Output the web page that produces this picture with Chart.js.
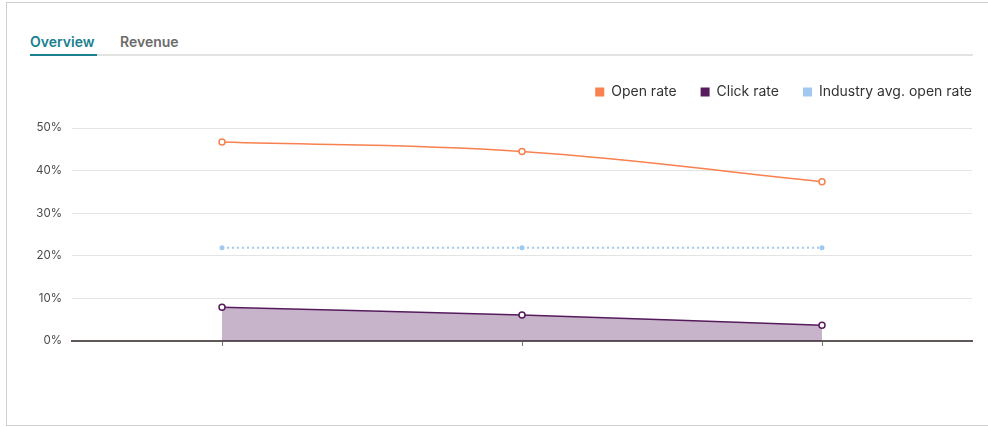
<!DOCTYPE html>
<html>
<head>
  <title>Campaign Overview</title>
  <meta charset="UTF-8" />
  <script src="https://cdn.jsdelivr.net/npm/chart.js"></script>
  <style>
    body {
      margin: 0;
      font-family: Inter, "Noto Sans", sans-serif;
      background: #fff;
      width: 988px;
      height: 427px;
      overflow: hidden;
      position: relative;
    }
    .card {
      position: absolute;
      left: 6px;
      top: 2px;
      width: 1000px;
      height: 422px;
      border: 1px solid #cfcfcf;
    }
    .tabs {
      position: absolute;
      left: 30px;
      top: 31px;
      width: 943px;
      height: 23px;
      border-bottom: 2px solid #e3e3e3;
      font-size: 14px;
      font-weight: 600;
    }
    .tab {
      position: absolute;
      top: 0;
      height: 23px;
      line-height: 21px;
    }
    .tab.active {
      left: 0;
      color: #1a7f8f;
      border-bottom: 2px solid #1a7f8f;
      width: 67px;
    }
    .tab.other {
      left: 90px;
      color: #6b6b6b;
    }
    .chart-box {
      position: absolute;
      left: 0;
      top: 57px;
      width: 988px;
      height: 368px;
    }
  </style>
</head>
<body>
  <div class="card"></div>
  <div class="tabs">
    <div class="tab active">Overview</div>
    <div class="tab other">Revenue</div>
  </div>
  <div class="chart-box"><canvas id="rateChart"></canvas></div>

  <script>
const campaigns = ['Campaign 1', 'Campaign 2', 'Campaign 3'];
const openRate = [46.7, 44.5, 37.4];
const clickRate = [7.9, 6.1, 3.7];
const industryOpen = [21.9, 21.9, 21.9];
const yTicks = [0, 10, 20, 30, 40, 50];

const LEGEND_PAD = 24;

// legend sits flush with the plot's right edge and leaves a gap below it
const legendTweak = {
  id: 'legendTweak',
  beforeInit(chart) {
    const origFit = chart.legend.fit;
    chart.legend.fit = function () {
      origFit.bind(chart.legend)();
      this.height += 19;
    };
  },
  afterLayout(chart) {
    chart.legend.right += LEGEND_PAD;
  }
};

const ctx = document.getElementById('rateChart').getContext('2d');
new Chart(ctx, {
  type: 'line',
  data: {
    labels: campaigns,
    datasets: [
      {
        label: 'Open rate',
        data: openRate,
        borderColor: '#f8814f',
        backgroundColor: '#f8814f',
        pointBackgroundColor: '#fff',
        pointBorderColor: '#f8814f',
        pointBorderWidth: 1.5,
        pointRadius: 3,
        borderWidth: 1.5,
        tension: 0.4,
        fill: false
      },
      {
        label: 'Click rate',
        data: clickRate,
        borderColor: '#561b5d',
        backgroundColor: 'rgba(86,27,93,0.33)',
        pointBackgroundColor: '#fff',
        pointBorderColor: '#561b5d',
        pointBorderWidth: 1.5,
        pointRadius: 3,
        borderWidth: 1.5,
        tension: 0.3,
        fill: 'origin'
      },
      {
        label: 'Industry avg. open rate',
        data: industryOpen,
        borderColor: '#9fc9ef',
        backgroundColor: '#9fc9ef',
        pointBackgroundColor: '#9fc9ef',
        pointBorderColor: '#9fc9ef',
        pointRadius: 1.5,
        borderWidth: 2,
        borderDash: [2, 3],
        tension: 0,
        fill: false
      }
    ]
  },
  options: {
    responsive: true,
    maintainAspectRatio: false,
    animation: false,
    layout: { padding: { right: 16, top: 4 } },
    scales: {
      x: {
        offset: true,
        grid: { drawOnChartArea: false, offset: false, tickLength: 5, color: '#777', lineWidth: 1 },
        border: { color: '#5f5a58', width: 2 },
        ticks: { callback: () => '' },
        afterFit: scale => { scale.height = 84; }
      },
      y: {
        min: 0,
        max: 50,
        afterBuildTicks: scale => { scale.ticks = yTicks.map(v => ({ value: v })); },
        ticks: {
          callback: v => v + '%',
          color: '#4a4a4a',
          font: { family: 'Inter', size: 11.5 },
          padding: 10
        },
        grid: { color: '#e4e4e4', drawTicks: false },
        border: { display: false },
        afterFit: scale => { scale.width = 72; }
      }
    },
    plugins: {
      legend: {
        position: 'top',
        align: 'end',
        labels: {
          boxWidth: 9,
          boxHeight: 9,
          color: '#333',
          font: { family: 'Inter', size: 14 },
          padding: LEGEND_PAD,
          generateLabels: chart => chart.data.datasets.map((d, i) => ({
            text: d.label,
            fillStyle: d.borderColor,
            strokeStyle: d.borderColor,
            lineWidth: 0,
            datasetIndex: i,
            fontColor: '#333'
          }))
        }
      },
      tooltip: { enabled: false }
    }
  },
  plugins: [legendTweak]
});
  </script>
</body>
</html>
